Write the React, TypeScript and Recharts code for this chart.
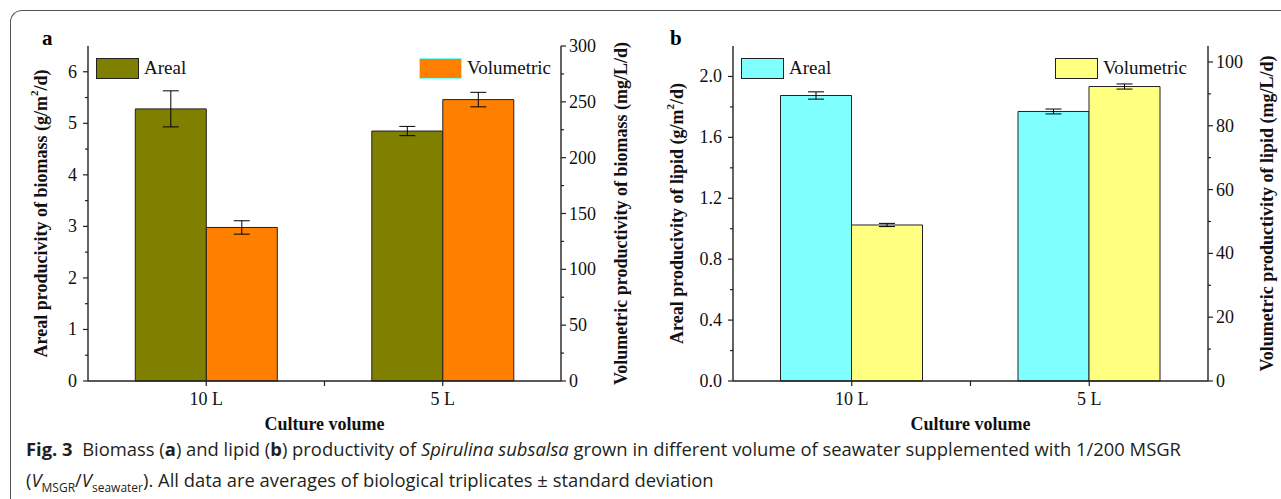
import React from 'react';
import { BarChart, Bar, XAxis, YAxis, ErrorBar, Legend } from 'recharts';

const categories = ['10 L', '5 L'];

const biomassAreal = [5.28, 4.85];
const biomassArealErr = [0.35, 0.09];
const biomassVolumetric = [137.5, 252];
const biomassVolumetricErr = [6, 6.5];

const lipidAreal = [1.875, 1.77];
const lipidArealErr = [0.024, 0.016];
const lipidVolumetric = [48.9, 92.3];
const lipidVolumetricErr = [0.5, 0.8];

const biomassArealTicks = [0, 0.5, 1, 1.5, 2, 2.5, 3, 3.5, 4, 4.5, 5, 5.5, 6];
const biomassVolumetricTicks = [0, 25, 50, 75, 100, 125, 150, 175, 200, 225, 250, 275, 300];
const lipidArealTicks = [0, 0.2, 0.4, 0.6, 0.8, 1.0, 1.2, 1.4, 1.6, 1.8, 2.0];
const lipidVolumetricTicks = [0, 10, 20, 30, 40, 50, 60, 70, 80, 90, 100];

const SERIF = '"Liberation Serif", "Times New Roman", serif';
const AXIS = '#222';

function YTick(props: any) {
  const { x, y, payload, side, major, digits } = props;
  const v = payload.value;
  const isMajor = Math.abs(v / major - Math.round(v / major)) < 1e-6;
  const len = isMajor ? 5 : 3;
  const dir = side === 'left' ? -1 : 1;
  const gap = side === 'left' ? 11 : 8;
  return (
    <g>
      <line x1={x} x2={x + dir * len} y1={y} y2={y} stroke={AXIS} strokeWidth={1.2} />
      {isMajor && (
        <text
          x={x + dir * gap}
          y={y}
          textAnchor={side === 'left' ? 'end' : 'start'}
          dominantBaseline="central"
          style={{ fontFamily: SERIF, fontSize: 18 }}
          fill="#111"
        >
          {v.toFixed(digits)}
        </text>
      )}
    </g>
  );
}

function XTick(props: any) {
  const { x, y, payload, index } = props;
  const half = payload.offset || 0;
  return (
    <g>
      <line x1={x} x2={x} y1={y} y2={y + 5} stroke={AXIS} strokeWidth={1.2} />
      {index === 0 && half > 0 && (
        <line x1={x + half} x2={x + half} y1={y} y2={y + 5} stroke={AXIS} strokeWidth={1.2} />
      )}
      <text x={x} y={y + 24} textAnchor="middle" style={{ fontFamily: SERIF, fontSize: 18 }} fill="#111">
        {payload.value}
      </text>
    </g>
  );
}

function VTitle(props: any) {
  const { viewBox, dx, text, sup, tail, size } = props;
  const cx = viewBox.x + dx;
  const cy = viewBox.y + viewBox.height / 2;
  return (
    <text
      x={cx}
      y={cy}
      transform={`rotate(-90 ${cx} ${cy})`}
      textAnchor="middle"
      dominantBaseline="central"
      style={{ fontFamily: SERIF, fontWeight: 'bold', fontSize: size }}
      fill="#111"
    >
      {text}
      {sup && (
        <>
          <tspan dy={-7} style={{ fontSize: 11 }}>{sup}</tspan>
          <tspan dy={7}>{tail}</tspan>
        </>
      )}
    </text>
  );
}

function XTitle(props: any) {
  const { viewBox } = props;
  return (
    <text
      x={viewBox.x + viewBox.width / 2}
      y={viewBox.y + 49}
      textAnchor="middle"
      style={{ fontFamily: SERIF, fontWeight: 'bold', fontSize: 18 }}
      fill="#111"
    >
      Culture volume
    </text>
  );
}

function LegendRow(props: any) {
  const { payload, borders } = props;
  return (
    <div style={{ display: 'flex', justifyContent: 'space-between', alignItems: 'center' }}>
      {payload.map((p: any, i: number) => (
        <div key={p.value} style={{ display: 'flex', alignItems: 'center' }}>
          <div
            style={{
              width: 41,
              height: 19,
              background: p.color,
              border: `1px solid ${borders[i]}`,
              marginRight: 5,
            }}
          />
          <span style={{ fontFamily: SERIF, fontSize: 19, color: '#111' }}>{p.value}</span>
        </div>
      ))}
    </div>
  );
}

interface PanelProps {
  areal: number[];
  arealErr: number[];
  volumetric: number[];
  volumetricErr: number[];
  leftDomain: number[];
  rightDomain: number[];
  leftTicks: number[];
  rightTicks: number[];
  leftMajor: number;
  rightMajor: number;
  leftDigits: number;
  arealColor: string;
  volumetricColor: string;
  legendBorders: string[];
  legendLeft: number;
  legendWidth: number;
  margin: { top: number; right: number; bottom: number; left: number };
  width: number;
  leftTitle: string[];
  rightTitle: string;
  leftTitleDx: number;
  rightTitleDx: number;
}

function Panel(p: PanelProps) {
  const data = categories.map((name, i) => ({
    name,
    Areal: p.areal[i],
    arealErr: p.arealErr[i],
    Volumetric: p.volumetric[i],
    volumetricErr: p.volumetricErr[i],
  }));

  return (
    <BarChart width={p.width} height={440} data={data} margin={p.margin} barCategoryGap="20%" barGap={0}>
      <XAxis
        dataKey="name"
        height={30}
        tickSize={0}
        tickMargin={0}
        tickLine={false}
        axisLine={{ stroke: AXIS, strokeWidth: 1.4 }}
        tick={<XTick />}
        label={<XTitle />}
      />
      <XAxis
        xAxisId="top"
        dataKey="name"
        orientation="top"
        height={0}
        tick={false}
        tickLine={false}
        axisLine={{ stroke: AXIS, strokeWidth: 1.4 }}
      />
      <YAxis
        yAxisId="l"
        width={40}
        domain={p.leftDomain}
        ticks={p.leftTicks}
        interval={0}
        tickSize={0}
        tickMargin={0}
        tickLine={false}
        axisLine={{ stroke: AXIS, strokeWidth: 1.4 }}
        tick={<YTick side="left" major={p.leftMajor} digits={p.leftDigits} />}
        label={
          <VTitle dx={p.leftTitleDx} size={18} text={p.leftTitle[0]} sup={p.leftTitle[1]} tail={p.leftTitle[2]} />
        }
      />
      <YAxis
        yAxisId="r"
        orientation="right"
        width={40}
        domain={p.rightDomain}
        ticks={p.rightTicks}
        interval={0}
        tickSize={0}
        tickMargin={0}
        tickLine={false}
        axisLine={{ stroke: AXIS, strokeWidth: 1.4 }}
        tick={<YTick side="right" major={p.rightMajor} digits={0} />}
        label={<VTitle dx={p.rightTitleDx} size={18} text={p.rightTitle} />}
      />
      <Legend
        layout="vertical"
        align="center"
        verticalAlign="middle"
        wrapperStyle={{ top: 57, left: p.legendLeft, width: p.legendWidth }}
        content={<LegendRow borders={p.legendBorders} />}
      />
      <Bar yAxisId="l" dataKey="Areal" fill={p.arealColor} stroke="#222" strokeWidth={1} isAnimationActive={false}>
        <ErrorBar dataKey="arealErr" width={8} stroke="#000" strokeWidth={1} />
      </Bar>
      <Bar
        yAxisId="r"
        dataKey="Volumetric"
        fill={p.volumetricColor}
        stroke="#222"
        strokeWidth={1}
        isAnimationActive={false}
      >
        <ErrorBar dataKey="volumetricErr" width={8} stroke="#000" strokeWidth={1} />
      </Bar>
    </BarChart>
  );
}

export default function App() {
  return (
    <div style={{ position: 'absolute', left: 0, top: 0, width: 1281, height: 499, background: '#fff', overflow: 'hidden' }}>
      <div
        style={{
          position: 'absolute',
          left: 10,
          top: 10,
          width: 1300,
          height: 488,
          borderTop: '1.5px solid #555',
          borderLeft: '1.5px solid #555',
          borderTopLeftRadius: 12,
        }}
      />
      <div style={{ position: 'absolute', left: 0, top: 0 }}>
        <Panel
          width={640}
          areal={biomassAreal}
          arealErr={biomassArealErr}
          volumetric={biomassVolumetric}
          volumetricErr={biomassVolumetricErr}
          leftDomain={[0, 6.5]}
          rightDomain={[0, 300]}
          leftTicks={biomassArealTicks}
          rightTicks={biomassVolumetricTicks}
          leftMajor={1}
          rightMajor={50}
          leftDigits={0}
          arealColor="#808000"
          volumetricColor="#ff8000"
          legendBorders={['#222', '#80ffff']}
          legendLeft={96}
          legendWidth={455}
          margin={{ top: 46, right: 39, bottom: 29, left: 48 }}
          leftTitle={['Areal producivity of biomass (g/m', '2', '/d)']}
          rightTitle="Volumetric productivity of biomass (mg/L/d)"
          leftTitleDx={-7.5}
          rightTitleDx={60}
        />
      </div>
      <div style={{ position: 'absolute', left: 640, top: 0 }}>
        <Panel
          width={641}
          areal={lipidAreal}
          arealErr={lipidArealErr}
          volumetric={lipidVolumetric}
          volumetricErr={lipidVolumetricErr}
          leftDomain={[0, 2.2]}
          rightDomain={[0, 105]}
          leftTicks={lipidArealTicks}
          rightTicks={lipidVolumetricTicks}
          leftMajor={0.4}
          rightMajor={20}
          leftDigits={1}
          arealColor="#80ffff"
          volumetricColor="#ffff80"
          legendBorders={['#222', '#222']}
          legendLeft={101}
          legendWidth={446}
          margin={{ top: 46, right: 33, bottom: 29, left: 53 }}
          leftTitle={['Areal producivity of lipid (g/m', '2', '/d)']}
          rightTitle="Volumetric  productivity of lipid (mg/L/d)"
          leftTitleDx={-16}
          rightTitleDx={59}
        />
      </div>
      <div style={{ position: 'absolute', left: 42, top: 26, fontFamily: SERIF, fontWeight: 'bold', fontSize: 21 }}>a</div>
      <div style={{ position: 'absolute', left: 670, top: 26, fontFamily: SERIF, fontWeight: 'bold', fontSize: 21 }}>b</div>
      <div
        style={{
          position: 'absolute',
          left: 26,
          top: 433,
          fontFamily: '"Open Sans", "Noto Sans", sans-serif',
          fontSize: 18.4,
          color: '#231f20',
          lineHeight: '32px',
          whiteSpace: 'nowrap',
        }}
      >
        <div>
          <b>Fig. 3</b>&nbsp;&nbsp;Biomass (<b>a</b>) and lipid (<b>b</b>) productivity of <i>Spirulina subsalsa</i> grown
          in different volume of seawater supplemented with 1/200 MSGR
        </div>
        <div style={{ marginTop: -1 }}>
          (<i>V</i>
          <sub style={{ fontSize: 12 }}>MSGR</sub>/<i>V</i>
          <sub style={{ fontSize: 12 }}>seawater</sub>). All data are averages of biological triplicates ± standard deviation
        </div>
      </div>
    </div>
  );
}
